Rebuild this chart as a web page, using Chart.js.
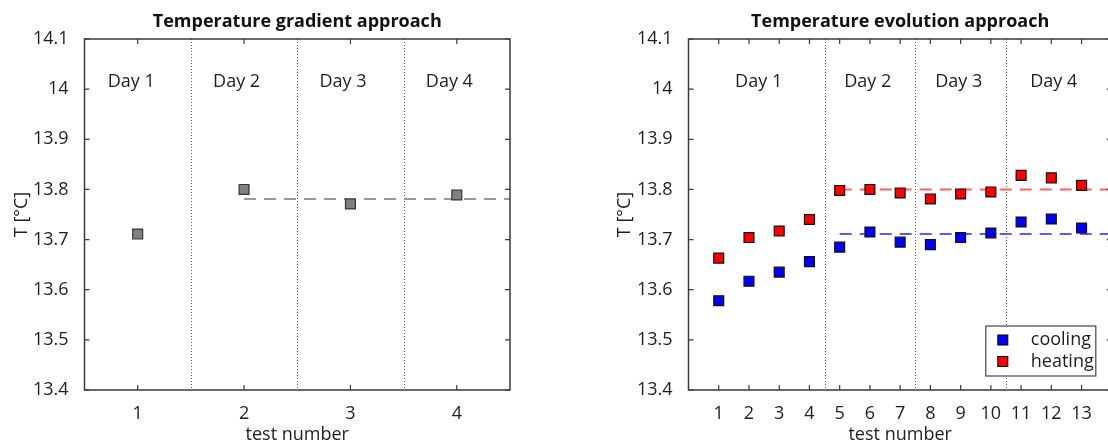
<!DOCTYPE html>
<html>
<head>
<meta charset="utf-8">
<script src="https://cdn.jsdelivr.net/npm/chart.js@4.4.1/dist/chart.umd.min.js"></script>
<style>
  html, body { margin: 0; padding: 0; background: #fff; overflow: hidden; width: 1108px; height: 446px; }
  .box { position: absolute; top: 0; height: 446px; }
  #left { left: 0; width: 560px; }
  #right { left: 560px; width: 560px; }
</style>
</head>
<body>
<div class="box" id="left"><canvas id="chartLeft" width="560" height="446"></canvas></div>
<div class="box" id="right"><canvas id="chartRight" width="560" height="446"></canvas></div>
<script>
// data
const gradTests = [1, 2, 3, 4];
const gradValues = [13.711, 13.800, 13.771, 13.789];
const gradMean = 13.781;

const evoTests = [1, 2, 3, 4, 5, 6, 7, 8, 9, 10, 11, 12, 13];
const coolingValues = [13.578, 13.617, 13.635, 13.656, 13.685, 13.715, 13.695, 13.690, 13.704, 13.713, 13.735, 13.741, 13.723];
const heatingValues = [13.663, 13.704, 13.717, 13.740, 13.798, 13.800, 13.793, 13.781, 13.791, 13.795, 13.828, 13.823, 13.808];
const coolingMean = 13.711;
const heatingMean = 13.800;

const yTicks = [13.4, 13.5, 13.6, 13.7, 13.8, 13.9, 14.0, 14.1];
const yTickLabels = ["13.4", "13.5", "13.6", "13.7", "13.8", "13.9", "14", "14.1"];

const dayLabels = ["Day 1", "Day 2", "Day 3", "Day 4"];
const gradDayBounds = [1.5, 2.5, 3.5];
const evoDayBounds = [4.5, 7.5, 10.5];
const gradDayLabelX = [0.94, 1.93, 2.93, 3.93];
const evoDayLabelX = [2.32, 5.93, 8.94, 12.08];
const dayLabelY = 14.015;

const FONT = "'Open Sans', 'Liberation Sans', sans-serif";
const TEXT = "#1e1e1e";
const AXIS = "#3a3a3a";

function pts(xs, ys) {
    return xs.map((x, i) => ({ x: x, y: ys[i] }));
}

// dotted day lines, day labels, frame with inward ticks, title, legend
function decor(opts) {
    return {
        id: "decor",
        beforeDatasetsDraw(chart) {
            const { ctx, chartArea: a, scales: { x, y } } = chart;
            ctx.save();
            ctx.strokeStyle = "#555";
            ctx.lineWidth = 1;
            ctx.setLineDash([1, 2]);
            opts.bounds.forEach((b) => {
                const px = Math.round(x.getPixelForValue(b)) + 0.5;
                ctx.beginPath();
                ctx.moveTo(px, a.top);
                ctx.lineTo(px, a.bottom);
                ctx.stroke();
            });
            ctx.setLineDash([]);
            ctx.fillStyle = TEXT;
            ctx.font = "18px " + FONT;
            ctx.textAlign = "center";
            ctx.textBaseline = "middle";
            dayLabels.forEach((t, i) => {
                ctx.fillText(t, x.getPixelForValue(opts.dayX[i]), y.getPixelForValue(dayLabelY));
            });
            ctx.restore();
        },
        afterDatasetsDraw(chart) {
            const { ctx, chartArea: a, scales: { x, y } } = chart;
            ctx.save();
            ctx.strokeStyle = AXIS;
            ctx.lineWidth = 1.5;
            ctx.strokeRect(a.left, a.top, a.right - a.left, a.bottom - a.top);
            ctx.lineWidth = 1.2;
            ctx.beginPath();
            x.ticks.forEach((t) => {
                const px = x.getPixelForValue(t.value);
                ctx.moveTo(px, a.bottom); ctx.lineTo(px, a.bottom - 5);
                ctx.moveTo(px, a.top); ctx.lineTo(px, a.top + 5);
            });
            y.ticks.forEach((t) => {
                const py = y.getPixelForValue(t.value);
                ctx.moveTo(a.left, py); ctx.lineTo(a.left + 5, py);
                ctx.moveTo(a.right, py); ctx.lineTo(a.right - 5, py);
            });
            ctx.stroke();

            if (opts.legend) {
                const bw = 110, bh = 50;
                const bx = a.right - 16 - bw, by = a.bottom - 14 - bh;
                ctx.fillStyle = "#fff";
                ctx.fillRect(bx, by, bw, bh);
                ctx.strokeStyle = "#444";
                ctx.lineWidth = 1.2;
                ctx.strokeRect(bx, by, bw, bh);
                ctx.font = "18px " + FONT;
                ctx.textAlign = "left";
                ctx.textBaseline = "middle";
                chart.data.datasets.filter((d) => d.showInLegend).forEach((d, i) => {
                    const cy = by + 14 + i * 21.5;
                    ctx.fillStyle = d.backgroundColor;
                    ctx.fillRect(bx + 12, cy - 5, 10, 10);
                    ctx.strokeStyle = "#000";
                    ctx.lineWidth = 1;
                    ctx.strokeRect(bx + 12, cy - 5, 10, 10);
                    ctx.fillStyle = TEXT;
                    ctx.fillText(d.label, bx + 45, cy);
                });
            }
            ctx.restore();
        },
        afterDraw(chart) {
            const { ctx, chartArea: a } = chart;
            ctx.save();
            ctx.fillStyle = "#111";
            ctx.font = "bold 18px " + FONT;
            ctx.textAlign = "center";
            ctx.textBaseline = "middle";
            ctx.fillText(opts.title, (a.left + a.right) / 2, 22);
            ctx.restore();
        }
    };
}

function scalesFor(xmin, xmax, xTicks, yWidth, yTitlePad) {
    return {
        x: {
            type: "linear",
            min: xmin,
            max: xmax,
            afterBuildTicks: (s) => { s.ticks = xTicks.map((v) => ({ value: v })); },
            afterFit: (s) => { s.height = 56; },
            grid: { display: false },
            border: { display: false },
            ticks: { color: TEXT, font: { family: FONT, size: 18 }, padding: 5, maxRotation: 0 },
            title: { display: true, text: "test number", color: TEXT, font: { family: FONT, size: 18 }, padding: { top: 0, bottom: 0 } }
        },
        y: {
            type: "linear",
            min: 13.4,
            max: 14.1,
            afterBuildTicks: (s) => { s.ticks = yTicks.map((v) => ({ value: v })); },
            afterFit: (s) => { s.width = yWidth; },
            grid: { display: false },
            border: { display: false },
            ticks: {
                color: TEXT,
                font: { family: FONT, size: 18 },
                padding: 8,
                callback: (v, i) => yTickLabels[i]
            },
            title: { display: true, text: "T [°C]", color: TEXT, font: { family: FONT, size: 18 }, padding: { top: yTitlePad, bottom: 0 } }
        }
    };
}

new Chart(document.getElementById("chartLeft"), {
    type: "scatter",
    data: {
        datasets: [{
                label: "test",
                data: pts(gradTests, gradValues),
                pointStyle: "rect",
                pointRadius: 7,
                backgroundColor: "#808080",
                borderColor: "#333",
                borderWidth: 1.2
            },
            {
                type: "line",
                label: "mean",
                data: [{ x: gradTests[1], y: gradMean }, { x: 4.5, y: gradMean }],
                borderColor: "#9a9a9a",
                borderWidth: 2,
                borderDash: [12, 8],
                pointRadius: 0
            }
        ]
    },
    options: {
        responsive: false,
        animation: false,
        events: [],
        layout: { padding: { left: 0, right: 50, top: 39, bottom: 0 } },
        plugins: { legend: { display: false }, tooltip: { enabled: false } },
        scales: scalesFor(0.5, 4.5, gradTests, 84.5, 11.5)
    },
    plugins: [decor({ title: "Temperature gradient approach", bounds: gradDayBounds, dayX: gradDayLabelX, legend: false })]
});

new Chart(document.getElementById("chartRight"), {
    type: "scatter",
    data: {
        datasets: [{
                label: "cooling",
                showInLegend: true,
                data: pts(evoTests, coolingValues),
                pointStyle: "rect",
                pointRadius: 7,
                backgroundColor: "#0000ff",
                borderColor: "#111",
                borderWidth: 1.2
            },
            {
                label: "heating",
                showInLegend: true,
                data: pts(evoTests, heatingValues),
                pointStyle: "rect",
                pointRadius: 7,
                backgroundColor: "#ff0000",
                borderColor: "#111",
                borderWidth: 1.2
            },
            {
                type: "line",
                label: "cooling mean",
                data: [{ x: evoTests[4], y: coolingMean }, { x: 14, y: coolingMean }],
                borderColor: "#5a5aff",
                borderWidth: 2,
                borderDash: [12, 8],
                pointRadius: 0
            },
            {
                type: "line",
                label: "heating mean",
                data: [{ x: evoTests[4], y: heatingMean }, { x: 14, y: heatingMean }],
                borderColor: "#ff6060",
                borderWidth: 2,
                borderDash: [12, 8],
                pointRadius: 0
            }
        ]
    },
    options: {
        responsive: false,
        animation: false,
        events: [],
        layout: { padding: { left: 0, right: 5, top: 39, bottom: 0 } },
        plugins: { legend: { display: false }, tooltip: { enabled: false } },
        scales: scalesFor(0, 14, evoTests, 128.5, 54.2)
    },
    plugins: [decor({ title: "Temperature evolution approach", bounds: evoDayBounds, dayX: evoDayLabelX, legend: true })]
});
</script>
</body>
</html>
